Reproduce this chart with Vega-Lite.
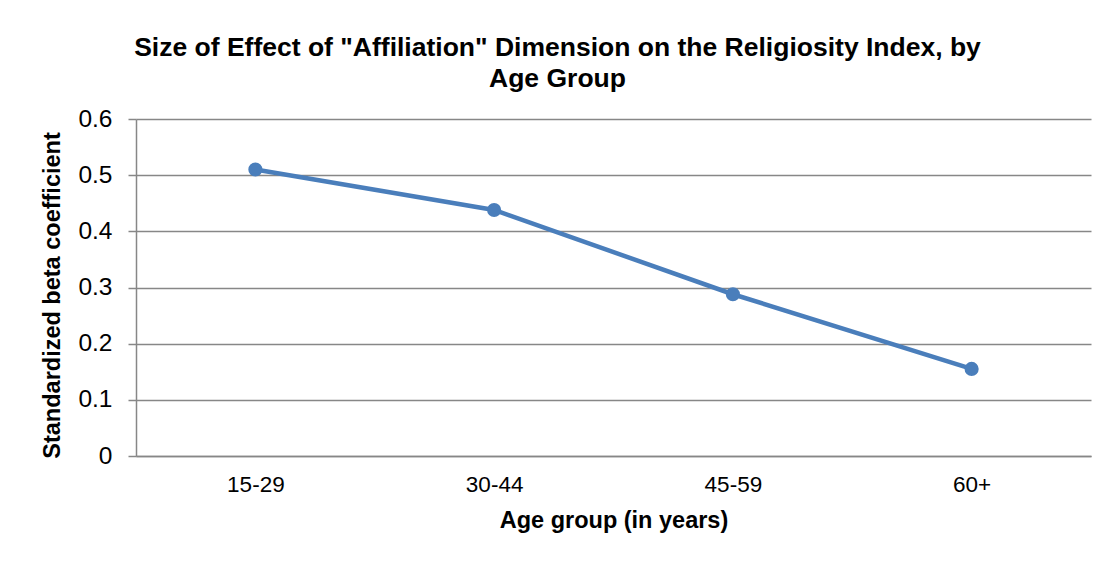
{
  "$schema": "https://vega.github.io/schema/vega-lite/v6.json",
  "width": 955,
  "height": 337,
  "autosize": {"type": "none"},
  "padding": {"left": 136, "top": 119, "right": 20, "bottom": 107},
  "background": "white",
  "title": {
    "text": ["Size of Effect of \"Affiliation\" Dimension on the Religiosity Index, by", "Age Group"],
    "font": "Liberation Sans",
    "fontSize": 26.5,
    "fontWeight": "bold",
    "color": "#000000",
    "anchor": "middle",
    "dx": -56,
    "offset": 14,
    "lineHeight": 31
  },
  "data": {
    "values": [
      {"age": "15-29", "beta": 0.51},
      {"age": "30-44", "beta": 0.438},
      {"age": "45-59", "beta": 0.288},
      {"age": "60+", "beta": 0.155}
    ]
  },
  "encoding": {
    "x": {
      "field": "age",
      "type": "nominal",
      "sort": null,
      "scale": {"padding": 0.5},
      "axis": {
        "title": "Age group (in years)",
        "labelAngle": 0,
        "ticks": false,
        "grid": false,
        "domainColor": "#878787",
        "domainWidth": 1.5,
        "labelFont": "Liberation Sans",
        "labelFontSize": 22.5,
        "labelColor": "#000000",
        "labelPadding": 17,
        "titleFont": "Liberation Sans",
        "titleFontSize": 23.5,
        "titleFontWeight": "bold",
        "titleColor": "#000000",
        "titlePadding": 13
      }
    },
    "y": {
      "field": "beta",
      "type": "quantitative",
      "scale": {"domain": [0, 0.6], "nice": false},
      "axis": {
        "title": "Standardized beta coefficient",
        "values": [0, 0.1, 0.2, 0.3, 0.4, 0.5, 0.6],
        "format": ".1~f",
        "grid": true,
        "gridColor": "#878787",
        "gridWidth": 1.5,
        "tickColor": "#878787",
        "tickWidth": 1.5,
        "tickSize": 8,
        "domainColor": "#878787",
        "domainWidth": 1.5,
        "labelFont": "Liberation Sans",
        "labelFontSize": 24.5,
        "labelColor": "#000000",
        "labelPadding": 16,
        "titleFont": "Liberation Sans",
        "titleFontSize": 23.5,
        "titleFontWeight": "bold",
        "titleColor": "#000000",
        "titlePadding": 13,
        "titleY": 176
      }
    }
  },
  "layer": [
    {"mark": {"type": "line", "color": "#4A7EBB", "strokeWidth": 4.5}},
    {"mark": {"type": "point", "filled": true, "opacity": 1, "color": "#4A7EBB", "size": 200}}
  ],
  "config": {"view": {"stroke": null}}
}
